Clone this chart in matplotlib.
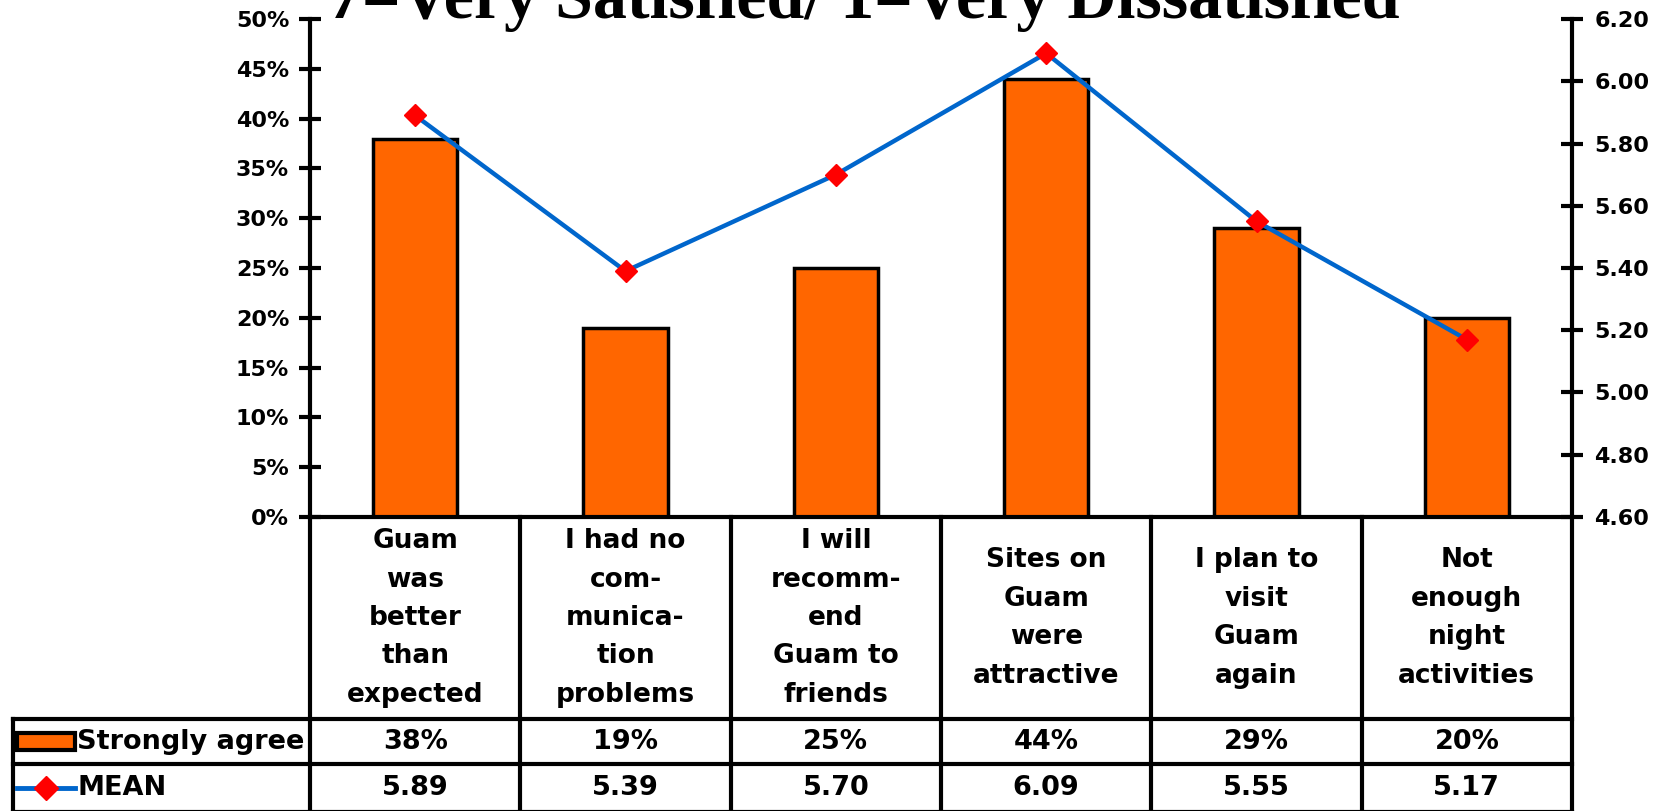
import matplotlib.pyplot as plt
import matplotlib.transforms as mtransforms
from matplotlib.patches import Rectangle
from matplotlib.lines import Line2D
from matplotlib.ticker import FuncFormatter

categories = [
    'Guam\nwas\nbetter\nthan\nexpected',
    'I had no\ncom-\nmunica-\ntion\nproblems',
    'I will\nrecomm-\nend\nGuam to\nfriends',
    'Sites on\nGuam\nwere\nattractive',
    'I plan to\nvisit\nGuam\nagain',
    'Not\nenough\nnight\nactivities',
]
strongly_agree = [38, 19, 25, 44, 29, 20]
mean_score = [5.89, 5.39, 5.70, 6.09, 5.55, 5.17]
row_labels = ['Strongly agree', 'MEAN']
title = '7=Very Satisfied/ 1=Very Dissatisfied'

orange = '#FF6600'
blue = '#0066CC'
red = '#FF0000'
lw = 3.0

plt.rcParams['font.family'] = 'DejaVu Sans'
plt.rcParams['font.weight'] = 'bold'

fig = plt.figure(figsize=(16.63, 8.11), dpi=100)
W, H = 1663, 811
ax_left, ax_right, ax_top, ax_bottom = 310, 1572, 19, 517
ax = fig.add_axes([ax_left / W, 1 - ax_bottom / H,
                   (ax_right - ax_left) / W, (ax_bottom - ax_top) / H])

x = list(range(len(categories)))
ax.bar(x, strongly_agree, width=0.4, color=orange, edgecolor='black',
       linewidth=2.5, zorder=2)
ax.set_xlim(-0.5, len(categories) - 0.5)
ax.set_ylim(0, 50)
ax.set_yticks(range(0, 51, 5))
ax.yaxis.set_major_formatter(FuncFormatter(lambda v, p: '%d%%' % v))
ax.set_xticks([])
for s in ['top', 'right']:
    ax.spines[s].set_visible(False)
for s in ['left', 'bottom']:
    ax.spines[s].set_linewidth(lw)
ax.tick_params(axis='y', direction='inout', length=16, width=lw,
               labelsize=16, pad=7)

ax2 = ax.twinx()
ax2.plot(x, mean_score, color=blue, linewidth=3.2, marker='D',
         markersize=11, markerfacecolor=red, markeredgecolor=red, zorder=3)
ax2.set_ylim(4.6, 6.2)
ax2.set_yticks([4.6 + 0.2 * i for i in range(9)])
ax2.yaxis.set_major_formatter(FuncFormatter(lambda v, p: '%.2f' % v))
for s in ['top', 'left', 'bottom']:
    ax2.spines[s].set_visible(False)
ax2.spines['right'].set_linewidth(lw)
ax2.tick_params(axis='y', direction='inout', length=16, width=lw,
                labelsize=16, pad=8)

# data table under the plot: x in data units, y in axes fraction
tr = mtransforms.blended_transform_factory(ax.transData, ax.transAxes)
span = ax_bottom - ax_top
cat_bottom = -(719 - ax_bottom) / span
row1_bottom = -(764 - ax_bottom) / span
row2_bottom = -(812 - ax_bottom) / span
label_left = -0.5 - (ax_left - 13) / ((ax_right - ax_left) / len(categories))
n = len(categories)


def hline(x0, x1, y):
    ax.add_line(Line2D([x0, x1], [y, y], transform=tr, color='black',
                       linewidth=lw, clip_on=False, zorder=5))


def vline(xp, y0, y1):
    ax.add_line(Line2D([xp, xp], [y0, y1], transform=tr, color='black',
                       linewidth=lw, clip_on=False, zorder=5))


hline(label_left, n - 0.5, cat_bottom)
hline(label_left, n - 0.5, row1_bottom)
hline(label_left, n - 0.5, row2_bottom)
vline(label_left, cat_bottom, row2_bottom)
for i in range(n + 1):
    vline(i - 0.5, 0, row2_bottom)

for i, lab in enumerate(categories):
    ax.text(i, cat_bottom / 2, lab, transform=tr, ha='center', va='center',
            fontsize=19, linespacing=1.62, clip_on=False)
    ax.text(i, (cat_bottom + row1_bottom) / 2, '%d%%' % strongly_agree[i],
            transform=tr, ha='center', va='center', fontsize=19.5)
    ax.text(i, (row1_bottom + row2_bottom) / 2, '%.2f' % mean_score[i],
            transform=tr, ha='center', va='center', fontsize=19.5)

# legend keys in the row-label column
unit_px = (ax_right - ax_left) / n
key_x0 = label_left + 4 / unit_px
key_x1 = label_left + 62 / unit_px
r1 = (cat_bottom + row1_bottom) / 2
r2 = (row1_bottom + row2_bottom) / 2
ax.add_patch(Rectangle((key_x0, r1 - 0.017), key_x1 - key_x0, 0.034,
                       transform=tr, facecolor=orange, edgecolor='black',
                       linewidth=3, clip_on=False, zorder=6))
ax.add_line(Line2D([key_x0, key_x1], [r2, r2], transform=tr, color=blue,
                   linewidth=3.5, clip_on=False, zorder=6))
ax.add_line(Line2D([(key_x0 + key_x1) / 2], [r2], transform=tr, marker='D',
                   markersize=12, color=red, clip_on=False, zorder=7))
for lab, yy in zip(row_labels, [r1, r2]):
    ax.text(key_x1 + 2 / unit_px, yy, lab, transform=tr, ha='left',
            va='center', fontsize=19.5)

fig.text(864 / W, 1 - 18 / H, title, ha='center', va='baseline',
         fontsize=49, fontweight='bold', family='Liberation Serif')

fig.savefig('out.png', dpi=100)
